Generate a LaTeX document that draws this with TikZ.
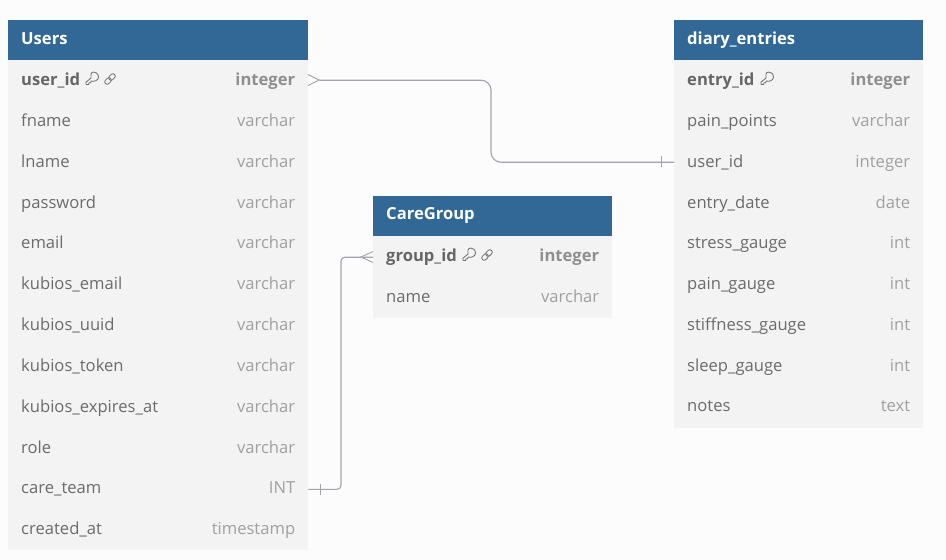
\documentclass[tikz,border=0pt]{standalone}
\usepackage{fontspec}
\setmainfont{Open Sans}
\definecolor{pagebg}{HTML}{FCFCFC}
\definecolor{headblue}{HTML}{316896}
\definecolor{rowbg}{HTML}{F3F3F3}
\definecolor{nametxt}{HTML}{6B6B6B}
\definecolor{typetxt}{HTML}{A0A0A0}
\definecolor{pkname}{HTML}{666666}
\definecolor{pktype}{HTML}{8F8F8F}
\definecolor{conn}{HTML}{A3A3AB}
\definecolor{iconc}{HTML}{707070}
\tikzset{
  x=1pt,y=-1pt,
  tabhead/.style={fill=headblue,draw=none,inner sep=0pt,minimum width=#1,minimum height=41pt,anchor=north west},
  tabrow/.style={fill=rowbg,draw=none,inner sep=0pt,minimum width=#1,minimum height=41pt,anchor=north west},
  headtxt/.style={anchor=west,inner sep=0pt,text=white,font=\fontsize{16.6}{20}\selectfont\bfseries,text height=13pt,text depth=4pt},
  nametx/.style={anchor=west,inner sep=0pt,text=nametxt,font=\fontsize{16.6}{20}\selectfont,text height=13pt,text depth=4pt},
  typetx/.style={anchor=east,inner sep=0pt,text=typetxt,font=\fontsize{16.6}{20}\selectfont,text height=13pt,text depth=4pt},
  pkn/.style={nametx,text=pkname,font=\fontsize{16.6}{20}\selectfont\bfseries},
  pkt/.style={typetx,text=pktype,font=\fontsize{16.6}{20}\selectfont\bfseries},
  connector/.style={draw=conn,line width=1.1pt},
  endmark/.style={draw=conn,line width=0.9pt},
  iconline/.style={draw=iconc,line width=0.85pt,line join=round},
}
\newcommand{\trow}[6]{%
  \node[tabrow=#4] (#1) at (#2,#3) {};
  \node[nametx] (#1n) at ([xshift=13pt,yshift=-0.8pt]#1.west) {#5};
  \node[typetx] (#1t) at ([xshift=-13pt,yshift=-0.8pt]#1.east) {#6};
}
\newcommand{\pkrow}[6]{%
  \node[tabrow=#4] (#1) at (#2,#3) {};
  \node[pkn] (#1n) at ([xshift=13pt,yshift=-0.8pt]#1.west) {#5};
  \node[pkt] (#1t) at ([xshift=-13pt,yshift=-0.8pt]#1.east) {#6};
}
\newcommand{\keyicon}[2]{%
  \begin{scope}[shift={(#1,#2)}]
    \draw[iconline] (0,-1) -- (-5,3.2) -- (-5,5.5) -- (-2.2,5.5) -- (-2.2,4) -- (-0.6,3.8) -- (0.4,2)
      .. controls (3,3) and (7.5,1.5) .. (7.5,-2)
      .. controls (7.5,-5.5) and (4.5,-7) .. (2.5,-7)
      .. controls (0,-7) and (-1,-3.5) .. cycle;
  \end{scope}}
\newcommand{\linkicon}[2]{%
  \begin{scope}[shift={(#1,#2)},rotate=45]
    \draw[iconline,rounded corners=2.2pt] (-6.4,-2.4) rectangle (0.8,2.4);
    \draw[iconline,rounded corners=2.2pt] (-0.8,-2.4) rectangle (6.4,2.4);
  \end{scope}}
\begin{document}
\begin{tikzpicture}
\useasboundingbox[fill=pagebg] (0,0) rectangle (946,560);
% Users
\node[tabhead=300pt] (uh) at (8,20) {};
\node[headtxt] (uhn) at ([xshift=13pt,yshift=1pt]uh.west) {Users};
\pkrow{ua}{8}{59.5}{300pt}{user\_id}{integer}
\trow{ub}{8}{100}{300pt}{fname}{varchar}
\trow{uc}{8}{141}{300pt}{lname}{varchar}
\trow{ud}{8}{182}{300pt}{password}{varchar}
\trow{ue}{8}{222}{300pt}{email}{varchar}
\trow{uf}{8}{263}{300pt}{kubios\_email}{varchar}
\trow{ug}{8}{304}{300pt}{kubios\_uuid}{varchar}
\trow{uh2}{8}{345}{300pt}{kubios\_token}{varchar}
\trow{ui}{8}{386}{300pt}{kubios\_expires\_at}{varchar}
\trow{uj}{8}{427}{300pt}{role}{varchar}
\trow{uk}{8}{467.4}{300pt}{care\_team}{INT}
\trow{ul}{8}{508.6}{300pt}{created\_at}{timestamp}
\keyicon{91}{79}
\linkicon{110}{79}
% CareGroup
\node[tabhead=239pt] (ch) at (373,195.5) {};
\node[headtxt] (chn) at ([xshift=13pt,yshift=1pt]ch.west) {CareGroup};
\pkrow{ca}{373}{235.5}{239pt}{group\_id}{integer}
\trow{cb}{373}{276.4}{239pt}{name}{varchar}
\keyicon{468}{255}
\linkicon{487}{255}
% diary
\node[tabhead=249pt] (dh) at (674,20) {};
\node[headtxt] (dhn) at ([xshift=13pt,yshift=1pt]dh.west) {diary\_entries};
\pkrow{da}{674}{59.5}{249pt}{entry\_id}{integer}
\trow{db}{674}{100}{249pt}{pain\_points}{varchar}
\trow{dc}{674}{141}{249pt}{user\_id}{integer}
\trow{dd}{674}{182}{249pt}{entry\_date}{date}
\trow{de}{674}{222}{249pt}{stress\_gauge}{int}
\trow{df}{674}{263}{249pt}{pain\_gauge}{int}
\trow{dg}{674}{304}{249pt}{stiffness\_gauge}{int}
\trow{dh2}{674}{345}{249pt}{sleep\_gauge}{int}
\trow{di}{674}{385.9}{249pt}{notes}{text}
\node[tabrow=249pt,minimum height=2pt] (dfoot) at (674,426) {};
\keyicon{766}{79}
% connectors
\coordinate (m1) at (491,0);
\coordinate (m2) at (341,0);
\coordinate (ufree) at ([xshift=11pt]ua.east);
\draw[connector,rounded corners=10pt] (ufree) -- (ufree -| m1) -- ([yshift=-0.5pt]dc.west -| m1) -- ([yshift=-0.5pt]dc.west);
\draw[connector,rounded corners=4pt] ([yshift=-1.2pt]uk.east) -- ([yshift=-1.2pt]uk.east -| m2) -- ([yshift=-1pt]ca.west -| m2) -- ([yshift=-1pt]ca.west);
% ends
\draw[endmark] (308,74.5) -- (319,80) -- (308,85.5);
\draw[endmark] (373,251.5) -- (361,257) -- (373,262.5);
\draw[endmark] (661,156) -- (661,167);
\draw[endmark] (320,483.5) -- (320,494.5);
\end{tikzpicture}
\end{document}
